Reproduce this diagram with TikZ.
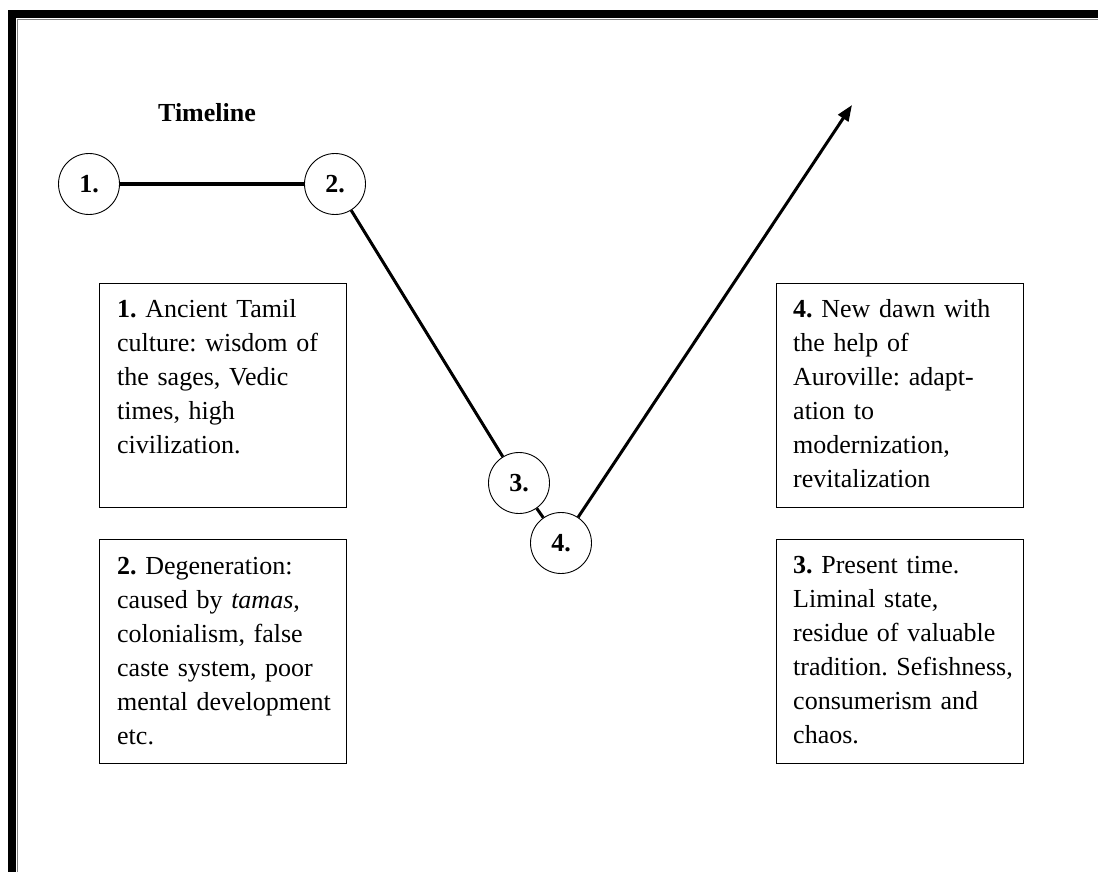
\documentclass[tikz,border=0pt]{standalone}
\usepackage{fontspec}
\setmainfont{Liberation Serif}
\usetikzlibrary{arrows.meta}
\frenchspacing
\begin{document}
\begin{tikzpicture}[x=1pt,y=-1pt,
  stage/.style={draw, circle, minimum size=61pt, inner sep=0pt, line width=0.9pt, font=\fontsize{26}{30}\selectfont\bfseries},
  infobox/.style={draw, line width=1pt, minimum width=247pt, minimum height=224pt, anchor=north west, inner sep=0pt},
  infotext/.style={anchor=base west, inner sep=0pt, align=left, text width=228pt, font=\fontsize{26}{34}\selectfont\frenchspacing},
  link/.style={line width=3pt},
]
\useasboundingbox (0,0) rectangle (1098,872);
% frame
\fill[black] (8,10) rectangle (1098,18);
\fill[black] (8,10) rectangle (16,872);
\draw[gray, line width=1pt] (17.5,19.5) -- (1098,19.5);
\draw[gray, line width=1pt] (17.5,19.5) -- (17.5,872);

\node[font=\fontsize{26}{30}\selectfont\bfseries] (title) at (207,113) {Timeline};

\node[stage] (c1) at (89,184) {1.};
\node[stage] (c2) at (335,184) {2.};
\node[stage] (c3) at (519,483) {3.};
\node[stage] (c4) at (561,543) {4.};
\coordinate (tip) at (852,105);

\draw[link] (c1) -- (c2);
\draw[link] (c2) -- (c3);
\draw[link] (c3) -- (c4);
\draw[link, -{Triangle[length=16pt,width=12pt]}] (c4) -- (tip);

\node[infobox] (b1) at (99,283) {};
\node[infotext] (t1) at (117,317) {\textbf{1.} Ancient Tamil\\culture: wisdom of\\the sages, Vedic\\times, high\\civilization.};

\node[infobox] (b2) at (99,539) {};
\node[infotext] (t2) at (117,574) {\textbf{2.} Degeneration:\\caused by \textit{tamas},\\colonialism, false\\caste system, poor\\mental development\\etc.};

\node[infobox] (b4) at (776,283) {};
\node[infotext] (t4) at (793,317) {\textbf{4.} New dawn with\\the help of\\Auroville: adapt-\\ation to\\modernization,\\revitalization};

\node[infobox] (b3) at (776,539) {};
\node[infotext] (t3) at (793,573) {\textbf{3.} Present time.\\Liminal state,\\residue of valuable\\tradition. Sefishness,\\consumerism and\\chaos.};
\end{tikzpicture}
\end{document}
